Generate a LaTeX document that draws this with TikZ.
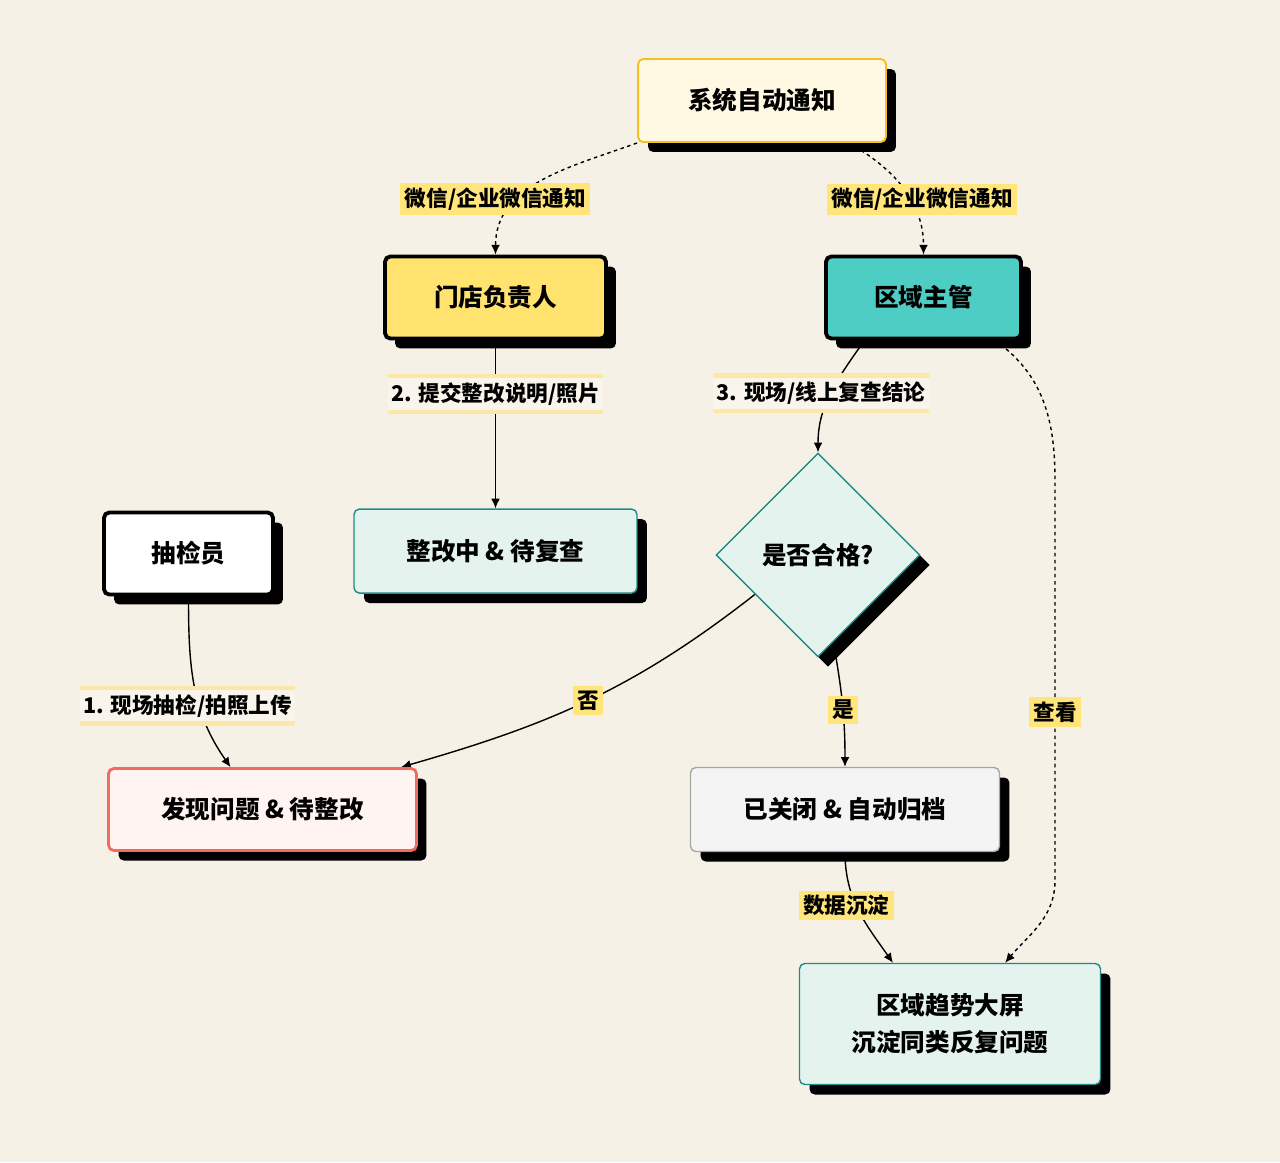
\documentclass[tikz,border=0pt]{standalone}
\usepackage{fontspec}
\setmainfont{Noto Sans CJK SC}
\usetikzlibrary{shapes.geometric, shadows, positioning, backgrounds, arrows.meta}

\definecolor{paper}{HTML}{F6F1E6}
\definecolor{notefill}{HTML}{FFF8E3}
\definecolor{notedraw}{HTML}{F5C21B}
\definecolor{storefill}{HTML}{FFE36E}
\definecolor{areafill}{HTML}{4ECDC4}
\definecolor{mintfill}{HTML}{E5F3EF}
\definecolor{tealdraw}{HTML}{1F8A88}
\definecolor{issuefill}{HTML}{FFF4F1}
\definecolor{issuedraw}{HTML}{F26C5E}
\definecolor{donefill}{HTML}{F4F4F4}
\definecolor{donedraw}{HTML}{A6A6A6}
\definecolor{tagyellow}{HTML}{FFE57A}
\definecolor{tagpale}{HTML}{F9F5EC}
\definecolor{tagline}{HTML}{FBE8A6}

\begin{document}
\begin{tikzpicture}[x=0.02cm, y=0.02cm, >={Latex[length=5.5pt, width=5pt]},
  box/.style={rectangle, rounded corners=3pt, align=center,
    font=\fontsize{14}{21}\selectfont\bfseries,
    drop shadow={shadow xshift=0.2cm, shadow yshift=-0.2cm, fill=black, opacity=1}},
  role/.style={box, draw=black, line width=2.2pt, minimum height=1.64cm},
  state/.style={box, fill=mintfill, draw=tealdraw, line width=0.8pt, minimum height=1.68cm},
  tag/.style={fill=tagyellow, inner sep=2.5pt, font=\fontsize{12.3}{14}\selectfont\bfseries},
  steptag/.style={fill=tagpale, inner ysep=5pt, inner xsep=2pt,
    font=\fontsize{12.3}{14}\selectfont\bfseries,
    path picture={
      \fill[tagline] (path picture bounding box.north west) rectangle ([yshift=-2.5pt]path picture bounding box.north east);
      \fill[tagline] (path picture bounding box.south west) rectangle ([yshift=2.5pt]path picture bounding box.south east);}},
  notify/.style={->, line width=0.8pt, dash pattern=on 2pt off 2pt},
  flow/.style={->, line width=0.8pt}]

\begin{scope}[on background layer]
\fill[paper] (0,0) rectangle (1280,-1162);
\end{scope}
\useasboundingbox (0,0) rectangle (1280,-1162);

% people and states
\node[box, fill=notefill, draw=notedraw, line width=1.1pt, minimum width=4.96cm, minimum height=1.66cm] (sysnotify) at (762,-100.5) {系统自动通知};
\node[role, fill=storefill, minimum width=4.42cm] (storemgr) at (495.5,-297.5) {门店负责人};
\node[role, fill=areafill, minimum width=3.9cm] (areamgr) at (923.5,-297.5) {区域主管};
\node[role, fill=white, minimum width=3.38cm] (inspector) at (188.5,-553.5) {抽检员};
\node[state, minimum width=5.66cm, below=3.36cm of storemgr] (rectifying) {整改中 \& 待复查};
\node[diamond, aspect=1, inner sep=0pt, minimum size=4.08cm, fill=mintfill, draw=tealdraw, line width=0.8pt,
  font=\fontsize{14}{21}\selectfont\bfseries,
  drop shadow={shadow xshift=0.2cm, shadow yshift=-0.2cm, fill=black, opacity=1}] (qualified) at (818,-555) {是否合格?};
\node[box, fill=issuefill, draw=issuedraw, line width=1.6pt, minimum width=6.16cm, minimum height=1.64cm] (foundissue) at (262.5,-809.5) {发现问题 \& 待整改};
\node[box, fill=donefill, draw=donedraw, line width=0.8pt, minimum width=6.18cm, minimum height=1.68cm] (closed) at (845,-809.5) {已关闭 \& 自动归档};
\node[state, minimum width=6.02cm, minimum height=2.42cm] (trendboard) at (950,-1024) {区域趋势大屏\\沉淀同类反复问题};

% connectors
\begin{scope}[on background layer]
\draw[notify] (sysnotify.south west) to[out=200, in=90] node[tag, pos=0.62, xshift=-0.56cm, yshift=-0.1cm] {微信/企业微信通知} (storemgr.north);
\draw[notify] (sysnotify.334) to[out=-30, in=90] node[tag, pos=0.55, xshift=0.3cm, yshift=-0.1cm] {微信/企业微信通知} (areamgr.north);
\draw[flow] (storemgr) -- node[steptag, pos=0.32] {2. 提交整改说明/照片} (rectifying);
\draw[flow] (areamgr.216) to[out=-125, in=90] node[steptag, pos=0.5, xshift=-0.2cm] {3. 现场/线上复查结论} (qualified.north);
\draw[notify] (areamgr.329) to[out=-35, in=90] (1055,-480) -- node[tag, pos=0.58] {查看} (1055,-880) to[out=-90, in=50] (trendboard.48);
\draw[flow] (inspector.south) to[out=-90, in=125] node[steptag, pos=0.62, xshift=-0.24cm] {1. 现场抽检/拍照上传} (foundissue.127);
\draw[flow] (qualified.212) to[out=218, in=16] node[tag, pos=0.5] {否} (foundissue.17);
\draw[flow] (qualified.-80) to[out=-80, in=90] node[tag, pos=0.55] {是} (closed.north);
\draw[flow] (closed.south) to[out=-90, in=125] node[tag, pos=0.45, xshift=-0.2cm] {数据沉淀} (trendboard.133);
\end{scope}
\end{tikzpicture}
\end{document}
